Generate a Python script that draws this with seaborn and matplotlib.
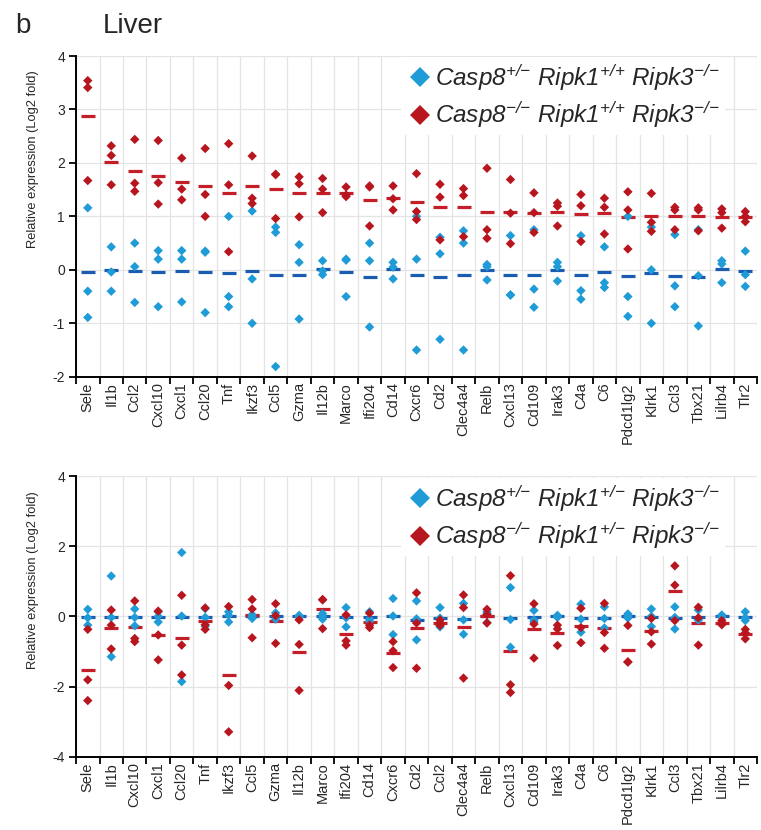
import numpy as np
import pandas as pd
import matplotlib
matplotlib.use('Agg')
import matplotlib.pyplot as plt
import seaborn as sns

# genes shown on each panel (bottom panel moves Ccl2 after Cd2)
genes_top = ['Sele', 'Il1b', 'Ccl2', 'Cxcl10', 'Cxcl1', 'Ccl20', 'Tnf', 'Ikzf3', 'Ccl5', 'Gzma',
             'Il12b', 'Marco', 'Ifi204', 'Cd14', 'Cxcr6', 'Cd2', 'Clec4a4', 'Relb', 'Cxcl13', 'Cd109',
             'Irak3', 'C4a', 'C6', 'Pdcd1lg2', 'Klrk1', 'Ccl3', 'Tbx21', 'Lilrb4', 'Tlr2']
genes_bottom = ['Sele', 'Il1b', 'Cxcl10', 'Cxcl1', 'Ccl20', 'Tnf', 'Ikzf3', 'Ccl5', 'Gzma', 'Il12b',
                'Marco', 'Ifi204', 'Cd14', 'Cxcr6', 'Cd2', 'Ccl2', 'Clec4a4', 'Relb', 'Cxcl13', 'Cd109',
                'Irak3', 'C4a', 'C6', 'Pdcd1lg2', 'Klrk1', 'Ccl3', 'Tbx21', 'Lilrb4', 'Tlr2']

# Log2 fold values, 3 mice per gene
het_top = [[1.16, -0.40, -0.89], [0.43, -0.04, -0.40], [0.50, 0.06, -0.61], [0.36, 0.20, -0.69],
           [0.36, 0.20, -0.60], [0.33, 0.35, -0.80], [1.00, -0.50, -0.69], [1.10, -0.17, -1.00],
           [0.80, 0.70, -1.81], [0.47, 0.14, -0.92], [0.17, -0.02, -0.09], [0.20, 0.18, -0.50],
           [0.50, 0.17, -1.07], [0.14, 0.05, -0.17], [1.00, 0.20, -1.50], [0.61, 0.30, -1.30],
           [0.73, 0.50, -1.50], [0.10, 0.06, -0.19], [0.64, -0.47, -0.47], [0.75, -0.36, -0.70],
           [0.14, 0.06, -0.21], [0.64, -0.39, -0.55], [0.43, -0.24, -0.33], [1.00, -0.50, -0.87],
           [0.80, 0.00, -1.00], [0.66, -0.30, -0.69], [0.75, -0.11, -1.05], [0.17, 0.11, -0.24],
           [0.35, -0.09, -0.31]]
ko_top = [[3.54, 3.41, 1.67], [2.32, 2.14, 1.59], [2.44, 1.62, 1.47], [2.42, 1.63, 1.23],
          [2.09, 1.51, 1.31], [2.27, 1.41, 1.00], [2.36, 1.59, 0.34], [2.13, 1.34, 1.24],
          [1.79, 1.78, 0.96], [1.74, 1.61, 0.99], [1.71, 1.51, 1.07], [1.55, 1.40, 1.37],
          [1.57, 1.55, 0.82], [1.57, 1.33, 1.12], [1.80, 1.09, 0.94], [1.60, 1.36, 0.56],
          [1.52, 1.39, 0.62], [1.90, 0.75, 0.59], [1.69, 1.06, 0.49], [1.44, 1.07, 0.70],
          [1.25, 1.19, 0.82], [1.41, 1.20, 0.53], [1.34, 1.17, 0.67], [1.46, 1.12, 0.39],
          [1.43, 0.89, 0.72], [1.17, 1.12, 0.75], [1.16, 1.12, 0.73], [1.14, 1.07, 0.78],
          [1.09, 1.00, 0.90]]
het_bottom = [[0.20, -0.04, -0.25], [1.15, -0.03, -1.15], [0.21, -0.03, -0.27], [0.13, 0.00, -0.16],
              [1.82, 0.01, -1.86], [0.22, -0.03, -0.28], [0.13, 0.03, -0.16], [0.05, 0.00, -0.06],
              [0.10, 0.00, -0.08], [0.03, 0.00, -0.03], [0.08, 0.00, -0.08], [0.25, -0.04, -0.30],
              [0.13, -0.08, -0.14], [0.51, 0.01, -0.52], [0.44, -0.07, -0.67], [0.25, -0.05, -0.30],
              [0.37, -0.10, -0.51], [0.13, 0.08, -0.18], [0.82, -0.09, -0.88], [0.17, -0.10, -0.16],
              [0.03, 0.00, -0.03], [0.35, -0.08, -0.45], [0.27, -0.06, -0.33], [0.07, 0.00, -0.05],
              [0.21, 0.00, -0.29], [0.27, -0.03, -0.36], [0.18, -0.10, -0.10], [0.04, 0.00, -0.03],
              [0.13, -0.04, -0.12]]
ko_bottom = [[-0.37, -1.81, -2.40], [0.18, -0.25, -0.93], [0.44, -0.63, -0.72], [0.15, -0.53, -1.24],
             [0.60, -0.82, -1.67], [0.24, -0.24, -0.37], [0.28, -1.97, -3.29], [0.48, 0.21, -0.61],
             [0.36, 0.02, -0.77], [-0.10, -0.80, -2.11], [0.48, 0.47, -0.35], [0.04, -0.70, -0.82],
             [0.09, -0.25, -0.32], [-0.72, -0.98, -1.46], [0.67, -0.19, -1.48], [-0.10, -0.18, -0.26],
             [0.61, 0.25, -1.76], [0.20, 0.05, -0.19], [1.16, -1.95, -2.17], [0.36, -0.22, -1.19],
             [-0.25, -0.36, -0.83], [0.23, -0.32, -0.75], [0.37, -0.46, -0.91], [-0.26, -1.30, -1.30],
             [-0.06, -0.44, -0.79], [1.44, 0.89, -0.12], [0.26, -0.04, -0.82], [-0.12, -0.18, -0.24],
             [-0.37, -0.47, -0.64]]

# sf is mapped to italic Liberation Sans so digits and signs stay italic too
labels_top = [r'$\mathsf{Casp8^{+/{-}}\ Ripk1^{+/{+}}\ Ripk3^{-/{-}}}$',
              r'$\mathsf{Casp8^{-/{-}}\ Ripk1^{+/{+}}\ Ripk3^{-/{-}}}$']
labels_bottom = [r'$\mathsf{Casp8^{+/{-}}\ Ripk1^{+/{-}}\ Ripk3^{-/{-}}}$',
                 r'$\mathsf{Casp8^{-/{-}}\ Ripk1^{+/{-}}\ Ripk3^{-/{-}}}$']

sns.set_style('white')
plt.rcParams['font.family'] = ['Liberation Sans', 'DejaVu Sans']
plt.rcParams['axes.unicode_minus'] = False
plt.rcParams['mathtext.fontset'] = 'custom'
plt.rcParams['mathtext.sf'] = 'Liberation Sans:italic'
plt.rcParams['mathtext.it'] = 'Liberation Sans:italic'
plt.rcParams['mathtext.rm'] = 'Liberation Sans'

dot_pal = {'het': '#1f9bd7', 'ko': '#b8161f'}
mean_pal = {'het': '#1a5cb0', 'ko': '#c41e28'}


def long_table(genes, het, ko):
    rows = []
    for g, a, b in zip(genes, het, ko):
        rows += [(g, 'het', v) for v in a]
        rows += [(g, 'ko', v) for v in b]
    return pd.DataFrame(rows, columns=['gene', 'group', 'value'])


def draw_panel(ax, genes, het, ko, ylim, yticks, leg_labels, ylab_y):
    df = long_table(genes, het, ko)
    sns.stripplot(data=df, x='gene', y='value', hue='group', order=genes,
                  hue_order=['het', 'ko'], palette=dot_pal, marker='D', size=4.8,
                  jitter=False, dodge=False, linewidth=0, ax=ax)
    sns.pointplot(data=df, x='gene', y='value', hue='group', order=genes,
                  hue_order=['het', 'ko'], palette=mean_pal, estimator='mean',
                  errorbar=None, marker='_', markersize=10, markeredgewidth=2.3,
                  linestyle='none', dodge=False, legend=False, ax=ax)

    n = len(genes)
    ax.set_xlim(-0.5, n - 0.5)
    ax.set_ylim(*ylim)
    ax.set_yticks(yticks)
    ax.set_yticklabels([str(t) for t in yticks], fontsize=10)
    ax.set_xticks(range(n))
    ax.set_xticklabels(genes, rotation=90, fontsize=10.5)
    ax.set_xticks(np.arange(-0.5, n, 1.0), minor=True)
    ax.tick_params(axis='x', which='major', length=0, pad=4)
    ax.tick_params(axis='x', which='minor', bottom=True, length=5, width=1.3, color='black')
    ax.tick_params(axis='y', which='major', left=True, length=5, width=1.3, color='black', pad=3)
    ax.grid(False)
    ax.grid(which='minor', axis='x', color='#e4e4e4', lw=0.9)
    ax.grid(which='major', axis='y', color='#e4e4e4', lw=0.9)
    ax.set_axisbelow(True)
    for s in ['top', 'right']:
        ax.spines[s].set_visible(False)
    for s in ['left', 'bottom']:
        ax.spines[s].set_color('black')
        ax.spines[s].set_linewidth(1.4)
    ax.set_xlabel('')
    ax.set_ylabel('Relative expression (Log2 fold)', fontsize=9.3)
    ax.yaxis.set_label_coords(-0.055, ylab_y)

    handles, _ = ax.get_legend_handles_labels()
    ax.legend(handles[:2], leg_labels, loc='upper left', bbox_to_anchor=(0.46, 1.035),
              fontsize=17.5, markerscale=2.2, handletextpad=0.1, labelspacing=0.28,
              borderpad=0.2, handlelength=1.1, frameon=True, fancybox=False,
              facecolor='white', edgecolor='none', framealpha=1)


fig = plt.figure(figsize=(7.61, 8.30), dpi=100)
ax1 = fig.add_axes([0.0999, 0.5461, 0.8949, 0.3864])
ax2 = fig.add_axes([0.0999, 0.0883, 0.8949, 0.3382])

draw_panel(ax1, genes_top, het_top, ko_top, (-2, 4), [-2, -1, 0, 1, 2, 3, 4], labels_top, 0.68)
draw_panel(ax2, genes_bottom, het_bottom, ko_bottom, (-4, 4), [-4, -2, 0, 2, 4], labels_bottom, 0.63)

fig.text(0.02, 0.984, 'b', fontsize=20, va='top')
fig.text(0.135, 0.984, 'Liver', fontsize=20, va='top')

fig.savefig('out.png', dpi=100)
